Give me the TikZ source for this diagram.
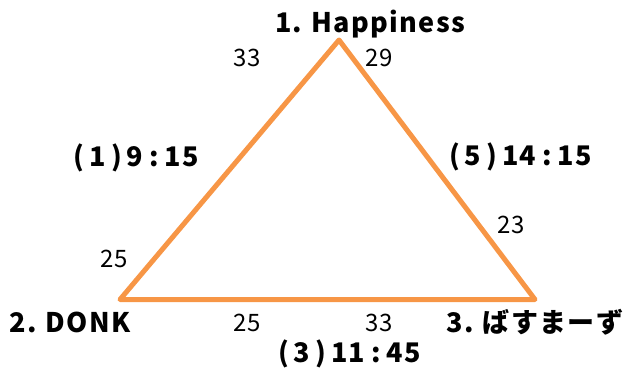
\documentclass[tikz,border=0pt]{standalone}
\usepackage{fontspec}
\newfontfamily\jp{Noto Sans CJK JP}
\newfontfamily\jpsp[LetterSpace=5]{Noto Sans CJK JP}
\definecolor{tri}{HTML}{F79646}
\newcommand\fwl{\kern5pt(\kern5pt}
\newcommand\fwr{\kern5pt)\kern5pt}
\newcommand\fwc{\kern6pt:\kern6pt}
\newcommand\gap{\hspace{9pt}}
\tikzset{
  lbl/.style={font=\jpsp\bfseries\fontsize{27}{27}\selectfont, inner sep=0pt, anchor=base},
  num/.style={font=\jp\fontsize{24}{24}\selectfont, inner sep=0pt, anchor=base},
  edge/.style={draw=tri, line width=5pt, line join=round}
}
\begin{document}
\begin{tikzpicture}[x=1pt,y=-1pt]
\useasboundingbox (0,0) rectangle (629,367);
\coordinate (A) at (339,40);
\coordinate (B) at (120,299.5);
\coordinate (C) at (535,299.5);
\draw[edge] (A) -- (B) -- (C) -- cycle;
\node[lbl] (tA) at (370,32) {1.\gap Happiness};
\node[lbl] (tB) at (70,332) {2.\gap DONK};
\node[lbl] (tC) at (535,332) {3.\gap ばすまーず};
\node[lbl] (e1) at (134,166) {\fwl 1\fwr 9\fwc 15};
\node[lbl] (e5) at (518,165) {\fwl 5\fwr 14\fwc 15};
\node[lbl] (e3) at (347,362) {\fwl 3\fwr 11\fwc 45};
\node[num] (n1) at (247,66) {33};
\node[num] (n2) at (379,66) {29};
\node[num] (n3) at (114,267) {25};
\node[num] (n4) at (511,233) {23};
\node[num] (n5) at (247,331) {25};
\node[num] (n6) at (379,331) {33};
\end{tikzpicture}
\end{document}
